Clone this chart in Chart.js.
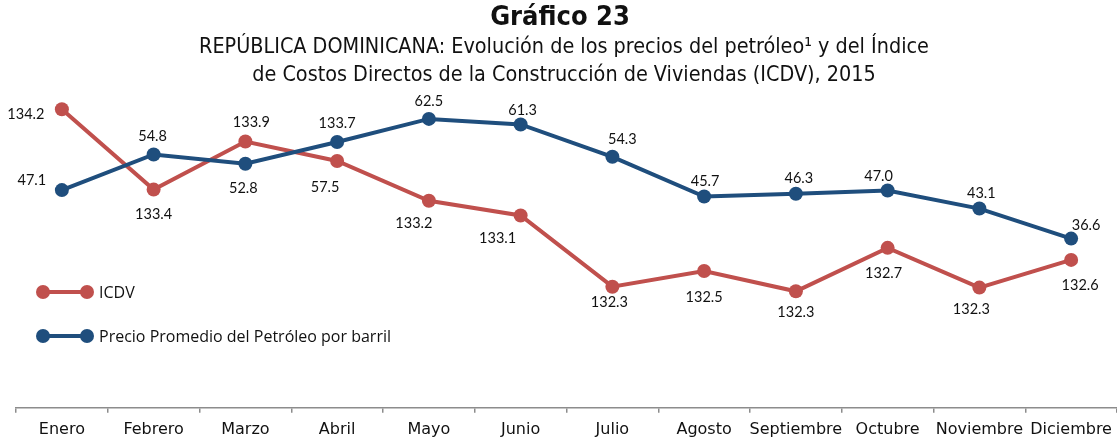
<!DOCTYPE html>
<html>
<head>
<meta charset="utf-8">
<script src="https://cdn.jsdelivr.net/npm/chart.js@4.4.1/dist/chart.umd.min.js"></script>
<style>
html,body{margin:0;padding:0;background:#fff;overflow:hidden;}
canvas{display:block;}
</style>
</head>
<body>
<canvas id="c" width="1117" height="443" style="width:1117px;height:443px"></canvas>
<script>
const months = ['Enero','Febrero','Marzo','Abril','Mayo','Junio','Julio','Agosto','Septiembre','Octubre','Noviembre','Diciembre'];
const icdvValues = [134.23,133.36,133.88,133.67,133.24,133.08,132.31,132.48,132.26,132.73,132.30,132.60];
const oilValues = [47.1,54.8,52.8,57.5,62.5,61.3,54.3,45.7,46.3,47.0,43.1,36.6];
const seriesNames = ['ICDV','Precio Promedio del Petróleo por barril'];
const titleLines = ['Gráfico 23','REPÚBLICA DOMINICANA: Evolución de los precios del petróleo¹ y del Índice','de Costos Directos de la Construcción de Viviendas (ICDV), 2015'];

const RED = '#C0504D';
const BLUE = '#1F4E7D';

// label offsets (style/position config, not data)
const icdvLabelOffsets = [[-36,5],[0,25],[6,-19],[0,-38],[-15,23],[-23,23],[-3,16],[0,26],[0,21],[-4,25],[-8,22],[9,25]];
const oilLabelOffsets = [[-30,-10],[-1,-18],[-2,25],[-12,45],[0,-18],[2,-14],[10,-17],[1,-15],[3,-15],[-9,-14],[2,-15],[15,-13]];

const labelPlugin = {
  id:'pointLabels',
  afterDatasetsDraw(chart){
    const ctx = chart.ctx;
    ctx.save();
    ctx.font = '14.5px Lato, "Open Sans", sans-serif';
    ctx.fillStyle = '#111';
    ctx.textAlign = 'center';
    ctx.textBaseline = 'middle';
    chart.data.datasets.forEach((ds, di) => {
      const meta = chart.getDatasetMeta(di);
      const offs = ds.labelOffsets;
      meta.data.forEach((pt, i) => {
        const o = offs[i];
        ctx.fillText(ds.data[i].toFixed(1), pt.x + o[0], pt.y + o[1]);
      });
    });
    ctx.restore();
  }
};

const legendPlugin = {
  id:'customLegend',
  afterDraw(chart){
    const ctx = chart.ctx;
    const items = [chart.data.datasets[1], chart.data.datasets[0]];
    const rows = [292, 336];
    ctx.save();
    items.forEach((ds, k) => {
      const y = rows[k];
      ctx.strokeStyle = ds.borderColor;
      ctx.lineWidth = 4;
      ctx.beginPath(); ctx.moveTo(43, y); ctx.lineTo(87, y); ctx.stroke();
      ctx.fillStyle = ds.borderColor;
      [43,87].forEach(x => { ctx.beginPath(); ctx.arc(x, y, 7, 0, Math.PI*2); ctx.fill(); });
      ctx.fillStyle = '#111';
      ctx.font = '16px "Open Sans", Lato, sans-serif';
      ctx.textAlign = 'left';
      ctx.textBaseline = 'middle';
      ctx.fillText(ds.label, 99, y + 1);
    });
    ctx.restore();
  }
};

const titlePlugin = {
  id:'customTitle',
  afterDraw(chart){
    const ctx = chart.ctx;
    ctx.save();
    ctx.fillStyle = '#111';
    ctx.textAlign = 'center';
    ctx.textBaseline = 'middle';
    ctx.font = 'bold 27px "Liberation Sans Narrow", "DejaVu Sans Condensed", sans-serif';
    ctx.fillText(titleLines[0], 560, 18);
    ctx.font = '21.4px "Liberation Sans Narrow", "DejaVu Sans Condensed", sans-serif';
    ctx.fillText(titleLines[1], 564, 47);
    ctx.fillText(titleLines[2], 564, 75);
    ctx.restore();
  }
};

new Chart(document.getElementById('c'), {
  type:'line',
  data:{
    labels: months,
    datasets:[
      {
        label: seriesNames[1], data: oilValues, yAxisID:'yOil', order:0,
        borderColor: BLUE, backgroundColor: BLUE, pointBackgroundColor: BLUE, pointBorderColor: BLUE,
        borderWidth:4, pointBorderWidth:0, pointRadius:7, pointHoverRadius:7, pointHoverBorderWidth:0,
        tension:0, labelOffsets: oilLabelOffsets
      },
      {
        label: seriesNames[0], data: icdvValues, yAxisID:'yIcdv', order:1,
        borderColor: RED, backgroundColor: RED, pointBackgroundColor: RED, pointBorderColor: RED,
        borderWidth:4, pointBorderWidth:0, pointRadius:7, pointHoverRadius:7, pointHoverBorderWidth:0,
        tension:0, labelOffsets: icdvLabelOffsets
      }
    ]
  },
  options:{
    responsive:false, maintainAspectRatio:false, animation:false, devicePixelRatio:1,
    layout:{autoPadding:false, padding:{top:38, left:16, right:-2, bottom:-3}},
    plugins:{legend:{display:false}, title:{display:false}, tooltip:{enabled:false}},
    scales:{
      x:{
        offset:true,
        afterFit(scale){ scale.paddingLeft = 0; scale.paddingRight = 0; },
        grid:{offset:true, drawOnChartArea:false, drawTicks:true, tickLength:5, color:'#8c8c8c', lineWidth:1.5},
        border:{display:true, color:'#8c8c8c', width:1.5},
        ticks:{color:'#111', font:{family:'"DejaVu Sans", sans-serif', size:16}, padding:7, maxRotation:0, autoSkip:false}
      },
      yIcdv:{display:false, min:131, max:135},
      yOil:{display:false, min:0, max:80}
    }
  },
  plugins:[labelPlugin, legendPlugin, titlePlugin]
});
</script>
</body>
</html>
